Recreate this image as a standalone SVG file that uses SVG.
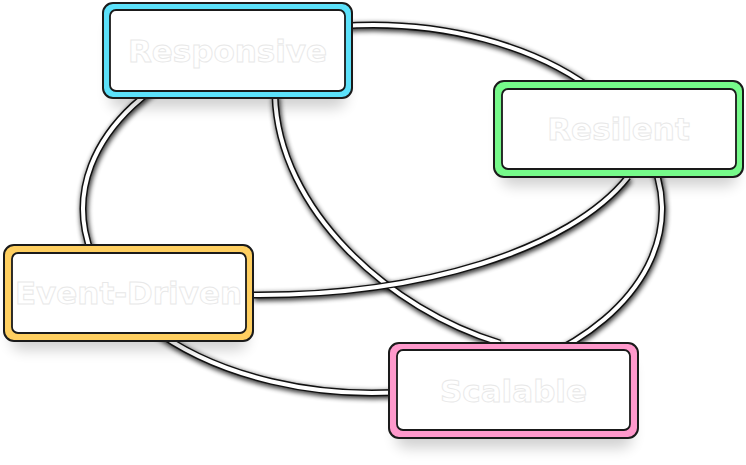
<svg xmlns="http://www.w3.org/2000/svg" width="746" height="465" viewBox="0 0 746 465">
<defs>
<filter id="lineShadow" x="-20%" y="-20%" width="140%" height="140%">
<feGaussianBlur stdDeviation="2.5"/>
</filter>
<filter id="boxShadow" x="-20%" y="-40%" width="140%" height="200%">
<feGaussianBlur stdDeviation="7"/>
</filter>
<style>
.sh{fill:none;stroke:#000;stroke-width:8;opacity:0.8;filter:url(#lineShadow)}
.ed{fill:none;stroke:#111;stroke-width:7}
.ew{fill:none;stroke:#fff;stroke-width:4}
.bs{fill:#000;opacity:0.18;filter:url(#boxShadow)}
.outer{stroke:#1a1a1a;stroke-width:2}
.inner{fill:#fff;stroke:#1a1a1a;stroke-width:1.8}
.lbl{font-family:"DejaVu Sans",sans-serif;font-weight:bold;font-size:31px;fill:#fff;stroke:#e8e8e8;stroke-width:0.9;text-anchor:middle;dominant-baseline:central}
</style>
</defs>
<rect width="746" height="465" fill="#fff"/>
<g id="connectors">
<g transform="translate(1,2)">
<path class="sh" d="M340,26.2 A289.5,184 0 0 1 600,95.2"/>
<path class="sh" d="M646.7,150 A289.5,184 0 0 1 540,359.1"/>
<path class="sh" d="M150,326.7 A289.5,184 0 0 0 420,390.5"/>
<path class="sh" d="M200,61.2 A289.5,184 0 0 0 112.6,290"/>
<path class="sh" d="M275,95 C278,210 390,310 500,343"/>
<path class="sh" d="M253,295 C420,296 570,250 628,177"/>
</g>
<path class="ed" d="M340,26.2 A289.5,184 0 0 1 600,95.2"/>
<path class="ed" d="M646.7,150 A289.5,184 0 0 1 540,359.1"/>
<path class="ed" d="M150,326.7 A289.5,184 0 0 0 420,390.5"/>
<path class="ed" d="M200,61.2 A289.5,184 0 0 0 112.6,290"/>
<path class="ed" d="M275,95 C278,210 390,310 500,343"/>
<path class="ew" d="M340,26.2 A289.5,184 0 0 1 600,95.2"/>
<path class="ew" d="M646.7,150 A289.5,184 0 0 1 540,359.1"/>
<path class="ew" d="M150,326.7 A289.5,184 0 0 0 420,390.5"/>
<path class="ew" d="M200,61.2 A289.5,184 0 0 0 112.6,290"/>
<path class="ew" d="M275,95 C278,210 390,310 500,343"/>
<path class="ed" d="M253,295 C420,296 570,250 628,177"/>
<path class="ew" d="M253,295 C420,296 570,250 628,177"/>
</g>
<g id="node-responsive">
<rect class="bs" x="110" y="20" width="236" height="88" rx="10"/>
<rect class="outer" x="103" y="3" width="249" height="95" rx="10" fill="#5ce1fa"/>
<rect class="inner" x="110" y="10" width="235" height="81" rx="6"/>
<text class="lbl" x="227.5" y="50.5">Responsive</text>
</g>
<g id="node-resilent">
<rect class="bs" x="501" y="98" width="236" height="88" rx="10"/>
<rect class="outer" x="494" y="81" width="249" height="96" rx="10" fill="#76fa8a"/>
<rect class="inner" x="502" y="89" width="234" height="80" rx="6"/>
<text class="lbl" x="618.5" y="129">Resilent</text>
</g>
<g id="node-event-driven">
<rect class="bs" x="11" y="262" width="236" height="88" rx="10"/>
<rect class="outer" x="4" y="245" width="249" height="96" rx="10" fill="#ffcf60"/>
<rect class="inner" x="12" y="253" width="234" height="80" rx="6"/>
<text class="lbl" x="128.5" y="293">Event-Driven</text>
</g>
<g id="node-scalable">
<rect class="bs" x="396" y="360" width="236" height="88" rx="10"/>
<rect class="outer" x="389" y="343" width="249" height="95" rx="10" fill="#ff99cc"/>
<rect class="inner" x="397" y="350" width="233" height="80" rx="6"/>
<text class="lbl" x="513.5" y="390.5">Scalable</text>
</g>
</svg>
